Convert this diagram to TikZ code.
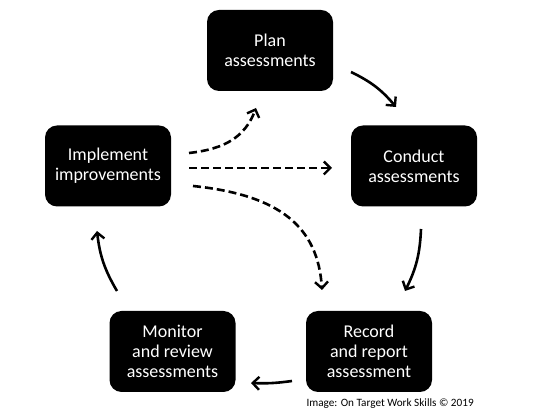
\documentclass[tikz,border=0pt]{standalone}
\usepackage{fontspec}
\setmainfont{Carlito}
\usetikzlibrary{arrows.meta}
\begin{document}
\begin{tikzpicture}[x=1pt,y=1pt,
  stage/.style={fill=black, text=white, rounded corners=12pt, minimum width=126pt, minimum height=81pt, align=center, font=\fontsize{18}{20}\selectfont, inner sep=0pt},
  flow/.style={line width=2.6pt, -{Straight Barb[length=6.5pt,width=13pt,line width=2.4pt]}},
  dflow/.style={flow, dash pattern=on 8pt off 4pt}]
\useasboundingbox (0,0) rectangle (541,417);
\node[stage] (plan) at (270,366.5) {Plan\\assessments};
\node[stage] (conduct) at (414,251) {Conduct\\assessments};
\node[stage] (record) at (369,65.5) {Record\\and report\\assessment};
\node[stage] (monitor) at (172.5,65.5) {Monitor\\and review\\assessments};
\node[stage] (impl) at (108,251) {Implement\\improvements};
\node[font=\fontsize{11.2}{13}\selectfont, anchor=west] (credit) at (303,13) {Image: On Target Work Skills © 2019};
% solid cycle
\coordinate (a1) at (351,345);
\coordinate (a2) at (396,310);
\draw[flow] (a1) to[bend left=12] (a2);
\coordinate (b1) at (421,188);
\coordinate (b2) at (405,126);
\draw[flow] (b1) to[bend left=12] (b2);
\coordinate (c1) at (292,36);
\coordinate (c2) at (251,34);
\draw[flow] (c1) to[bend left=5] (c2);
\coordinate (d1) at (117,126);
\coordinate (d2) at (97,186);
\draw[flow] (d1) to[bend left=12] (d2);
% dashed
\coordinate (e1) at (189,264);
\coordinate (e2) at (256,309);
\draw[dflow] (e1) .. controls (225,268) and (245,280) .. (e2);
\coordinate (f1) at (189,249);
\coordinate (f2) at (332,249);
\draw[dflow] (f1) -- (f2);
\coordinate (g1) at (193,231);
\coordinate (g2) at (322,127);
\draw[dflow] (g1) .. controls (280,222) and (318,190) .. (g2);
\end{tikzpicture}
\end{document}
